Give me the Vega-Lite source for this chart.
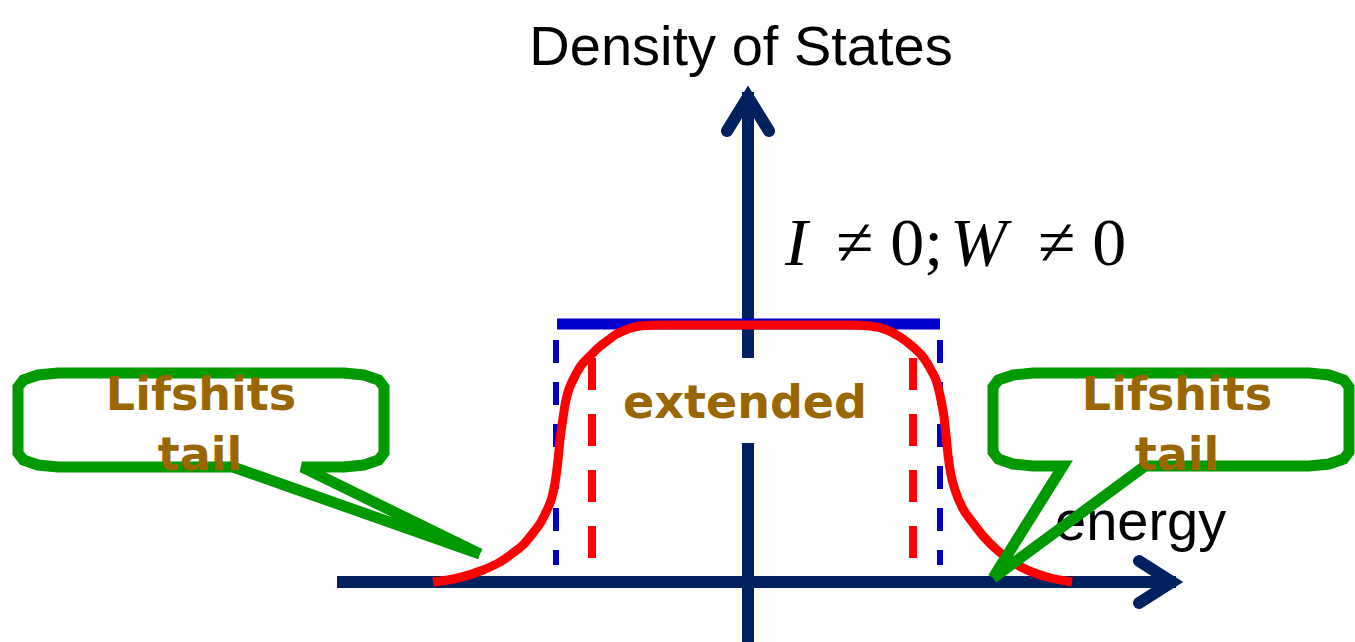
{
  "$schema": "https://vega.github.io/schema/vega-lite/v6.json",
  "width": 1355,
  "height": 642,
  "padding": 0,
  "autosize": {"type": "none"},
  "background": "white",
  "config": {"view": {"stroke": null}},
  "encoding": {
    "x": {"field": "x", "type": "quantitative", "scale": {"domain": [0, 1355], "nice": false, "zero": false}, "axis": null},
    "y": {"field": "y", "type": "quantitative", "scale": {"domain": [0, 642], "reverse": true, "nice": false, "zero": false}, "axis": null}
  },
  "layer": [
    {
      "data": {"values": [
        {"x": 748, "y": 92, "x2": 748, "y2": 358},
        {"x": 748, "y": 443, "x2": 748, "y2": 642},
        {"x": 337, "y": 582, "x2": 1176, "y2": 582}
      ]},
      "mark": {"type": "rule", "stroke": "#002060", "strokeWidth": 12, "strokeCap": "butt"},
      "encoding": {"x2": {"field": "x2"}, "y2": {"field": "y2"}}
    },
    {
      "data": {"values": [
        {"g": "v", "o": 0, "x": 727, "y": 131},
        {"g": "v", "o": 1, "x": 748, "y": 97},
        {"g": "v", "o": 2, "x": 769, "y": 131},
        {"g": "h", "o": 0, "x": 1139, "y": 561},
        {"g": "h", "o": 1, "x": 1172, "y": 582},
        {"g": "h", "o": 2, "x": 1139, "y": 603}
      ]},
      "mark": {"type": "line", "stroke": "#002060", "strokeWidth": 12, "strokeCap": "round", "strokeJoin": "miter"},
      "encoding": {"detail": {"field": "g"}, "order": {"field": "o"}}
    },
    {
      "data": {"values": [{"x": 557, "y": 324, "x2": 940, "y2": 324}]},
      "mark": {"type": "rule", "stroke": "#0000CC", "strokeWidth": 11, "strokeCap": "butt"},
      "encoding": {"x2": {"field": "x2"}, "y2": {"field": "y2"}}
    },
    {
      "data": {"values": [
        {"x": 556, "y": 340, "x2": 556, "y2": 565},
        {"x": 940, "y": 340, "x2": 940, "y2": 565}
      ]},
      "mark": {"type": "rule", "stroke": "#0000CC", "strokeWidth": 6, "strokeDash": [23, 19], "strokeCap": "butt"},
      "encoding": {"x2": {"field": "x2"}, "y2": {"field": "y2"}}
    },
    {
      "data": {"values": [
        {"x": 592, "y": 358, "x2": 592, "y2": 558},
        {"x": 913, "y": 358, "x2": 913, "y2": 558}
      ]},
      "mark": {"type": "rule", "stroke": "#FF0000", "strokeWidth": 8, "strokeDash": [32, 24], "strokeCap": "butt"},
      "encoding": {"x2": {"field": "x2"}, "y2": {"field": "y2"}}
    },
    {
      "data": {"values": [
        {"x": 433, "y": 582}, {"x": 458, "y": 578}, {"x": 483, "y": 570}, {"x": 500, "y": 562},
        {"x": 513, "y": 553}, {"x": 524, "y": 544}, {"x": 533, "y": 533}, {"x": 541, "y": 522},
        {"x": 547, "y": 510}, {"x": 552, "y": 497}, {"x": 555, "y": 483}, {"x": 558, "y": 460},
        {"x": 560, "y": 440}, {"x": 563, "y": 418}, {"x": 565, "y": 405}, {"x": 568, "y": 392},
        {"x": 573, "y": 380}, {"x": 580, "y": 367}, {"x": 590, "y": 356}, {"x": 598, "y": 348},
        {"x": 607, "y": 341}, {"x": 615, "y": 335}, {"x": 623, "y": 331}, {"x": 640, "y": 326},
        {"x": 662, "y": 325}, {"x": 850, "y": 325}, {"x": 870, "y": 326}, {"x": 887, "y": 330},
        {"x": 900, "y": 337}, {"x": 912, "y": 346}, {"x": 923, "y": 357}, {"x": 931, "y": 370},
        {"x": 937, "y": 383}, {"x": 941, "y": 400}, {"x": 944, "y": 417}, {"x": 946, "y": 435},
        {"x": 948, "y": 455}, {"x": 951, "y": 475}, {"x": 955, "y": 490}, {"x": 962, "y": 507},
        {"x": 973, "y": 523}, {"x": 984, "y": 537}, {"x": 997, "y": 550}, {"x": 1010, "y": 560},
        {"x": 1023, "y": 568}, {"x": 1047, "y": 577}, {"x": 1072, "y": 582}
      ]},
      "mark": {"type": "line", "stroke": "#FF0000", "strokeWidth": 9, "strokeCap": "butt", "interpolate": "monotone"},
      "encoding": {}
    },
    {
      "data": {"values": [{"x": 1055, "y": 540, "t": "energy"}]},
      "mark": {"type": "text", "font": "Liberation Sans", "fontSize": 56, "align": "left", "baseline": "alphabetic", "color": "#000000"},
      "encoding": {"text": {"field": "t"}}
    },
    {
      "data": {"values": [
        {"c": "L", "o": 0, "x": 480, "y": 554},
        {"c": "L", "o": 1, "x": 302, "y": 467},
        {"c": "L", "o": 2, "x": 344, "y": 467},
        {"c": "L", "o": 3, "x": 364, "y": 465},
        {"c": "L", "o": 4, "x": 378.6, "y": 460},
        {"c": "L", "o": 5, "x": 384, "y": 453},
        {"c": "L", "o": 6, "x": 384, "y": 387},
        {"c": "L", "o": 7, "x": 378.6, "y": 380},
        {"c": "L", "o": 8, "x": 364, "y": 375},
        {"c": "L", "o": 9, "x": 344, "y": 373},
        {"c": "L", "o": 10, "x": 58, "y": 373},
        {"c": "L", "o": 11, "x": 38, "y": 375},
        {"c": "L", "o": 12, "x": 23.4, "y": 380},
        {"c": "L", "o": 13, "x": 18, "y": 387},
        {"c": "L", "o": 14, "x": 18, "y": 453},
        {"c": "L", "o": 15, "x": 23.4, "y": 460},
        {"c": "L", "o": 16, "x": 38, "y": 465},
        {"c": "L", "o": 17, "x": 58, "y": 467},
        {"c": "L", "o": 18, "x": 233, "y": 467},
        {"c": "L", "o": 19, "x": 480, "y": 554},
        {"c": "R", "o": 0, "x": 993, "y": 578},
        {"c": "R", "o": 1, "x": 1145, "y": 466},
        {"c": "R", "o": 2, "x": 1309, "y": 466},
        {"c": "R", "o": 3, "x": 1329, "y": 464},
        {"c": "R", "o": 4, "x": 1343.6, "y": 459},
        {"c": "R", "o": 5, "x": 1349, "y": 452},
        {"c": "R", "o": 6, "x": 1349, "y": 387},
        {"c": "R", "o": 7, "x": 1343.6, "y": 380},
        {"c": "R", "o": 8, "x": 1329, "y": 375},
        {"c": "R", "o": 9, "x": 1309, "y": 373},
        {"c": "R", "o": 10, "x": 1033, "y": 373},
        {"c": "R", "o": 11, "x": 1013, "y": 375},
        {"c": "R", "o": 12, "x": 998.4, "y": 380},
        {"c": "R", "o": 13, "x": 993, "y": 387},
        {"c": "R", "o": 14, "x": 993, "y": 452},
        {"c": "R", "o": 15, "x": 998.4, "y": 459},
        {"c": "R", "o": 16, "x": 1013, "y": 464},
        {"c": "R", "o": 17, "x": 1033, "y": 466},
        {"c": "R", "o": 18, "x": 1063, "y": 466},
        {"c": "R", "o": 19, "x": 993, "y": 578}
      ]},
      "mark": {"type": "line", "stroke": "#009900", "strokeWidth": 11, "strokeCap": "butt", "strokeJoin": "miter"},
      "encoding": {"detail": {"field": "c"}, "order": {"field": "o"}}
    },
    {
      "data": {"values": [
        {"x": 201, "y": 410, "t": "Lifshits"},
        {"x": 200, "y": 470, "t": "tail"},
        {"x": 1177, "y": 410, "t": "Lifshits"},
        {"x": 1177, "y": 470, "t": "tail"},
        {"x": 745, "y": 418, "t": "extended"}
      ]},
      "mark": {"type": "text", "font": "DejaVu Sans", "fontWeight": "bold", "fontSize": 46, "align": "center", "baseline": "alphabetic", "color": "#996600"},
      "encoding": {"text": {"field": "t"}}
    },
    {
      "data": {"values": [{"x": 741, "y": 65, "t": "Density of States"}]},
      "mark": {"type": "text", "font": "Liberation Sans", "fontSize": 56, "align": "center", "baseline": "alphabetic", "color": "#000000"},
      "encoding": {"text": {"field": "t"}}
    },
    {
      "data": {"values": [
        {"x": 785, "y": 265, "t": "I"},
        {"x": 950, "y": 265, "t": "W"}
      ]},
      "mark": {"type": "text", "font": "Liberation Serif", "fontStyle": "italic", "fontSize": 68, "align": "left", "baseline": "alphabetic", "color": "#000000"},
      "encoding": {"text": {"field": "t"}}
    },
    {
      "data": {"values": [
        {"x": 836, "y": 265, "t": "≠ 0;"},
        {"x": 1038, "y": 265, "t": "≠ 0"}
      ]},
      "mark": {"type": "text", "font": "Liberation Serif", "fontSize": 68, "align": "left", "baseline": "alphabetic", "color": "#000000"},
      "encoding": {"text": {"field": "t"}}
    }
  ]
}
